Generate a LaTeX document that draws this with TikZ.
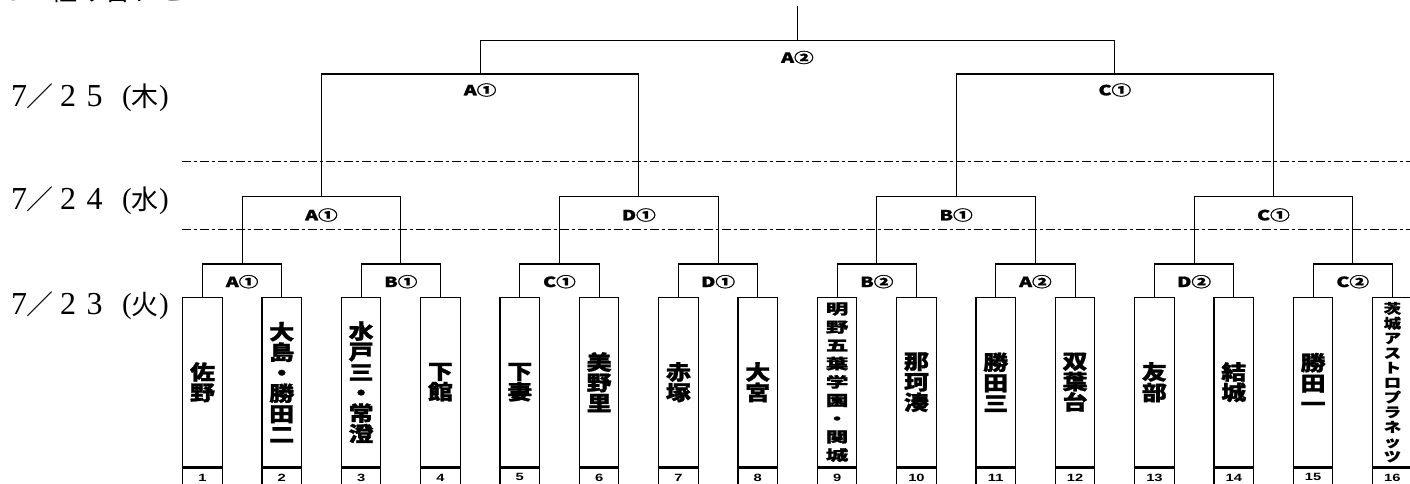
\documentclass[tikz,border=0pt]{standalone}
\usepackage{fontspec}
\usepackage{graphicx}
\newfontfamily\cjk{Noto Sans CJK JP}[BoldFeatures={FakeBold=1.2}]
\newfontfamily\lser{Liberation Serif}
\newfontfamily\lsans{Liberation Sans}
\newcommand\tightlines{\lineskiplimit=-100pt\relax\lineskip=0pt\relax}
\tikzset{
  br/.style={line width=1.1pt},
  teambox/.style={draw, line width=1.2pt, minimum width=39.5pt, minimum height=169pt,
    inner sep=0pt, align=center,
    font=\cjk\bfseries\fontsize{20.5}{20.5}\selectfont\tightlines},
  teamnine/.style={teambox,
    font=\cjk\bfseries\fontsize{20.5}{18.3}\selectfont\tightlines},
  teamsmall/.style={teambox,
    font=\cjk\bfseries\fontsize{15}{14.8}\selectfont\tightlines},
  numbox/.style={draw, line width=1.2pt, minimum width=39.5pt, minimum height=19pt,
    anchor=north, inner sep=0pt, font=\lsans\bfseries\fontsize{10.5}{10.5}\selectfont},
  rlab/.style={inner sep=0pt, font=\cjk\bfseries\fontsize{14}{14}\selectfont},
  dashline/.style={line width=1.4pt, dash pattern=on 9pt off 3pt on 3pt off 3pt},
  dser/.style={anchor=base, inner sep=0pt, font=\lser\fontsize{32}{32}\selectfont},
  dpar/.style={anchor=base, inner sep=0pt, font=\lser\fontsize{29}{29}\selectfont},
  dcjk/.style={anchor=base, inner sep=0pt, font=\cjk\fontsize{27}{27}\selectfont},
}
\newcommand\stretchlab[1]{\scalebox{1.4}[1]{#1}}
\newcommand\stretchnum[1]{\scalebox{1.4}[1]{#1}}
\newcommand\vc[1]{\scalebox{1.22}[1]{#1}}
\newcommand\vcn[1]{\scalebox{1.1}[0.7]{#1}}
\newcommand\vcs[1]{\scalebox{1.15}[0.9]{#1}}
\newcommand\datelab[5]{%
  \node[dser] (#1a) at (19,#2) {7};
  \node[dcjk] (#1b) at (40,#2) {／};
  \node[dser] (#1c) at (68,#2) {#3};
  \node[dser] (#1d) at (94.5,#2) {#4};
  \node[dpar] (#1e) at (127,#2-1) {(};
  \node[dcjk] (#1f) at (144.5,#2) {#5};
  \node[dpar] (#1g) at (164,#2-1) {)};
}
\begin{document}
\begin{tikzpicture}[x=1pt,y=-1pt]
\useasboundingbox (0,0) rectangle (1410,483);

% title (cut off at top)
\node[anchor=base, inner sep=0pt, font=\cjk\fontsize{27}{27}\selectfont] (t3) at (14,0.5) {３};
\node[anchor=base west, inner sep=0pt, font=\cjk\fontsize{27}{27}\selectfont] (ttl) at (50,0.5) {組み合わせ};

% date labels
\datelab{da}{106.5}{2}{5}{木}
\datelab{db}{209.5}{2}{4}{水}
\datelab{dc}{314.5}{2}{3}{火}

% dash-dot separators
\coordinate (s1a) at (181.7,161.7); \coordinate (s1b) at (1412,161.7);
\coordinate (s2a) at (181.7,229.3); \coordinate (s2b) at (1412,229.3);
\draw[dashline] (s1a) -- (s1b);
\draw[dashline] (s2a) -- (s2b);

% team boxes
\node[teambox] (t1)  at (202.45,382.2)  {\vc{佐}\\\vc{野}};
\node[teambox] (t2)  at (281.78,382.2)  {\vc{大}\\\vc{島}\\\vc{・}\\\vc{勝}\\\vc{田}\\\vc{二}};
\node[teambox] (t3b) at (361.11,382.2)  {\vc{水}\\\vc{戸}\\\vc{三}\\\vc{・}\\\vc{常}\\\vc{澄}};
\node[teambox] (t4)  at (440.44,382.2)  {\vc{下}\\\vc{館}};
\node[teambox] (t5)  at (519.77,382.2)  {\vc{下}\\\vc{妻}};
\node[teambox] (t6)  at (599.10,382.2)  {\vc{美}\\\vc{野}\\\vc{里}};
\node[teambox] (t7)  at (678.43,382.2)  {\vc{赤}\\\vc{塚}};
\node[teambox] (t8)  at (757.76,382.2)  {\vc{大}\\\vc{宮}};
\node[teamnine] (t9) at (837.09,382.2)  {\vcn{明}\\\vcn{野}\\\vcn{五}\\\vcn{葉}\\\vcn{学}\\\vcn{園}\\\vcn{・}\\\vcn{関}\\\vcn{城}};
\node[teambox] (t10) at (916.42,382.2)  {\vc{那}\\\vc{珂}\\\vc{湊}};
\node[teambox] (t11) at (995.75,382.2)  {\vc{勝}\\\vc{田}\\\vc{三}};
\node[teambox] (t12) at (1075.08,382.2) {\vc{双}\\\vc{葉}\\\vc{台}};
\node[teambox] (t13) at (1154.41,382.2) {\vc{友}\\\vc{部}};
\node[teambox] (t14) at (1233.74,382.2) {\vc{結}\\\vc{城}};
\node[teambox] (t15) at (1313.07,382.2) {\vc{勝}\\\vc{田}\\\vc{一}};
\node[teamsmall] (t16) at (1392.40,382.2) {\vcs{茨}\\\vcs{城}\\\vcs{ア}\\\vcs{ス}\\\vcs{ト}\\\vcs{ロ}\\\vcs{プ}\\\vcs{ラ}\\\vcs{ネ}\\\vcs{ッ}\\\vcs{ツ}};

% number boxes
\node[numbox] (n1)  at (t1.south)  {\stretchnum{1}};
\node[numbox] (n2)  at (t2.south)  {\stretchnum{2}};
\node[numbox] (n3)  at (t3b.south) {\stretchnum{3}};
\node[numbox] (n4)  at (t4.south)  {\stretchnum{4}};
\node[numbox] (n5)  at (t5.south)  {\stretchnum{5}};
\node[numbox] (n6)  at (t6.south)  {\stretchnum{6}};
\node[numbox] (n7)  at (t7.south)  {\stretchnum{7}};
\node[numbox] (n8)  at (t8.south)  {\stretchnum{8}};
\node[numbox] (n9)  at (t9.south)  {\stretchnum{9}};
\node[numbox] (n10) at (t10.south) {\stretchnum{10}};
\node[numbox] (n11) at (t11.south) {\stretchnum{11}};
\node[numbox] (n12) at (t12.south) {\stretchnum{12}};
\node[numbox] (n13) at (t13.south) {\stretchnum{13}};
\node[numbox] (n14) at (t14.south) {\stretchnum{14}};
\node[numbox] (n15) at (t15.south) {\stretchnum{15}};
\node[numbox] (n16) at (t16.south) {\stretchnum{16}};

% bracket junctions
\coordinate (r1a) at (242.1,264);  \coordinate (r1b) at (400.8,264);
\coordinate (r1c) at (559.4,264);  \coordinate (r1d) at (718.1,264);
\coordinate (r1e) at (876.8,264);  \coordinate (r1f) at (1035.4,264);
\coordinate (r1g) at (1194.1,264); \coordinate (r1h) at (1352.7,264);
\coordinate (r2a) at (321.4,196.7);  \coordinate (r2b) at (638.8,196.7);
\coordinate (r2c) at (956.1,196.7);  \coordinate (r2d) at (1273.4,196.7);
\coordinate (r3a) at (480.1,74);   \coordinate (r3b) at (1114.8,74);
\coordinate (r4) at (797.4,40.3);
\coordinate (top) at (797.4,6);

% round 1
\draw[br] (t1.north)  |- (r1a) -| (t2.north);
\draw[br] (t3b.north) |- (r1b) -| (t4.north);
\draw[br] (t5.north)  |- (r1c) -| (t6.north);
\draw[br] (t7.north)  |- (r1d) -| (t8.north);
\draw[br] (t9.north)  |- (r1e) -| (t10.north);
\draw[br] (t11.north) |- (r1f) -| (t12.north);
\draw[br] (t13.north) |- (r1g) -| (t14.north);
\draw[br] (t15.north) |- (r1h) -| (t16.north);
% round 2
\draw[br] (r1a) |- (r2a) -| (r1b);
\draw[br] (r1c) |- (r2b) -| (r1d);
\draw[br] (r1e) |- (r2c) -| (r1f);
\draw[br] (r1g) |- (r2d) -| (r1h);
% round 3
\draw[br] (r2a) |- (r3a) -| (r2b);
\draw[br] (r2c) |- (r3b) -| (r2d);
% final
\draw[br] (r3a) |- (r4) -| (r3b);
\draw[br] (r4) -- (top);

% labels
\node[rlab] (l1a) at (242.1,281.7)  {\stretchlab{A①}};
\node[rlab] (l1b) at (400.8,281.7)  {\stretchlab{B①}};
\node[rlab] (l1c) at (559.4,281.7)  {\stretchlab{C①}};
\node[rlab] (l1d) at (718.1,281.7)  {\stretchlab{D①}};
\node[rlab] (l1e) at (876.8,281.7)  {\stretchlab{B②}};
\node[rlab] (l1f) at (1035.4,281.7) {\stretchlab{A②}};
\node[rlab] (l1g) at (1194.1,281.7) {\stretchlab{D②}};
\node[rlab] (l1h) at (1352.7,281.7) {\stretchlab{C②}};
\node[rlab] (l2a) at (321.4,215)  {\stretchlab{A①}};
\node[rlab] (l2b) at (638.8,215)  {\stretchlab{D①}};
\node[rlab] (l2c) at (956.1,215)  {\stretchlab{B①}};
\node[rlab] (l2d) at (1273.4,215) {\stretchlab{C①}};
\node[rlab] (l3a) at (480.1,90)   {\stretchlab{A①}};
\node[rlab] (l3b) at (1114.8,90)  {\stretchlab{C①}};
\node[rlab] (l4)  at (797.4,57.5) {\stretchlab{A②}};
\end{tikzpicture}
\end{document}
